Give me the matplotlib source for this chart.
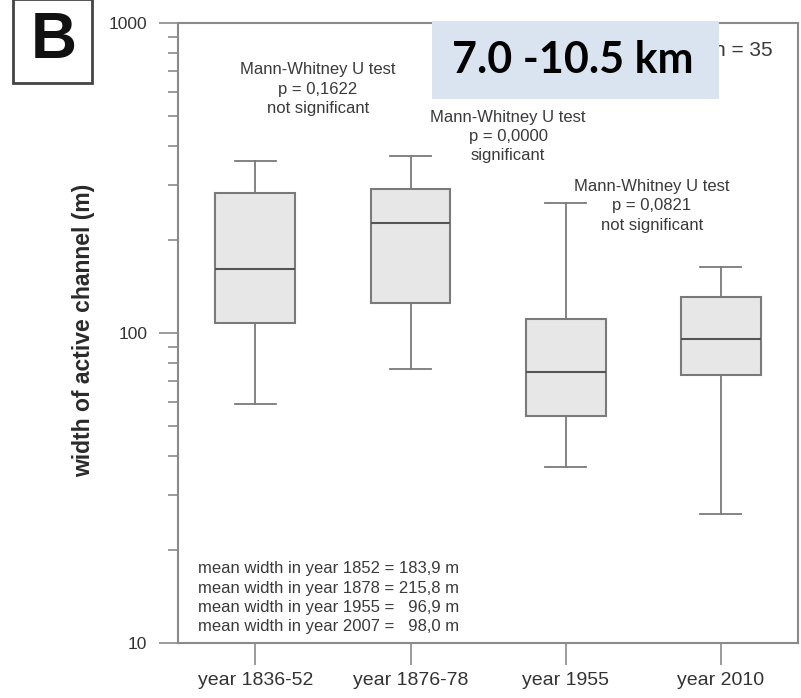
import numpy as np
import matplotlib
matplotlib.use("Agg")
import matplotlib.pyplot as plt
from matplotlib.patches import Rectangle
from matplotlib.ticker import LogLocator, FixedLocator, NullFormatter

plt.rcParams['font.family'] = ['Liberation Sans', 'DejaVu Sans']

# box statistics (m)
periods = ['year 1836-52', 'year 1876-78', 'year 1955', 'year 2010']
whis_low = [59, 76.5, 37, 26.1]
q1 = [108, 125, 54, 73.3]
median = [161, 226, 74.8, 95.7]
q3 = [283, 291, 111, 131]
whis_high = [359, 372, 262, 163]

tests = [
    ('0,1622', 'not significant'),
    ('0,0000', 'significant'),
    ('0,0821', 'not significant'),
]
mean_lines = [
    'mean width in year 1852 = 183,9 m',
    'mean width in year 1878 = 215,8 m',
    'mean width in year 1955 =   96,9 m',
    'mean width in year 2007 =   98,0 m',
]

fig = plt.figure(figsize=(8.01, 6.98), dpi=100)
ax = fig.add_axes([0.2222, 0.0788, 0.7741, 0.8882])

stats = []
for i in range(len(periods)):
    stats.append(dict(med=median[i], q1=q1[i], q3=q3[i],
                      whislo=whis_low[i], whishi=whis_high[i], fliers=[]))

pos = np.arange(1, len(periods) + 1)
edge = '#7a7a7a'
ax.bxp(stats, positions=pos, widths=0.516, patch_artist=True, showfliers=False,
       boxprops=dict(facecolor='#e7e7e7', edgecolor=edge, linewidth=1.5),
       medianprops=dict(color='#555555', linewidth=1.5),
       whiskerprops=dict(color=edge, linewidth=1.3),
       capprops=dict(color=edge, linewidth=1.3),
       capwidths=0.27)

ax.set_yscale('log')
ax.set_ylim(10, 1000)
ax.set_xlim(0.5, len(periods) + 0.5)

ax.yaxis.set_major_locator(FixedLocator([10, 100, 1000]))
ax.set_yticklabels(['10', '100', '1000'])
ax.yaxis.set_minor_locator(LogLocator(base=10, subs=np.arange(2, 10)))
ax.yaxis.set_minor_formatter(NullFormatter())
ax.set_xticks(pos)
ax.set_xticklabels(periods)

for s in ax.spines.values():
    s.set_color('#8a8a8a')
    s.set_linewidth(1.5)
ax.tick_params(axis='y', which='major', length=14, width=1.2, color='#8a8a8a',
               labelsize=12.5, labelcolor='#333333', pad=8)
ax.tick_params(axis='y', which='minor', length=7, width=1.2, color='#8a8a8a')
ax.tick_params(axis='x', length=16, width=1.2, color='#8a8a8a',
               labelsize=14, labelcolor='#333333', pad=5)

ax.set_ylabel('width of active channel (m)', fontsize=16.5, fontweight='bold',
              color='#2a2a2a')
ax.yaxis.set_label_coords(-0.134, 0.505)

# Mann-Whitney annotations
test_x = [1.403, 2.629, 3.558]
test_y = [612, 431, 257]
for (p, verdict), tx, ty in zip(tests, test_x, test_y):
    ax.text(tx, ty, 'Mann-Whitney U test\np = %s\n%s' % (p, verdict),
            ha='center', va='center', fontsize=12, color='#3a3a3a',
            linespacing=1.35)

ax.text(0.629, 14.0, '\n'.join(mean_lines), ha='left', va='center',
        fontsize=12, color='#3a3a3a', linespacing=1.35)

fig.text(0.964, 0.928, 'n = 35', ha='right', va='center', fontsize=15,
         color='#3a3a3a')

# highlighted range box
fig.patches.append(Rectangle((432 / 801, 1 - 99 / 698), 287 / 801, 78 / 698,
                             transform=fig.transFigure, facecolor='#dae3f0',
                             edgecolor='none', zorder=5))
fig.text(573 / 801, 1 - 60 / 698, '7.0 -10.5 km', ha='center', va='center',
         fontsize=31, fontweight='bold', family=['Lato', 'DejaVu Sans'],
         color='black', zorder=6)

# panel letter
fig.patches.append(Rectangle((13 / 801, 1 - 83 / 698), 79 / 801, 84 / 698,
                             transform=fig.transFigure, facecolor='white',
                             edgecolor='#444444', linewidth=2, zorder=5))
fig.text(54 / 801, 1 - 41 / 698, 'B', ha='center', va='center', fontsize=46,
         fontweight='bold', color='#111111', zorder=6)

fig.savefig('out.png', dpi=100)
